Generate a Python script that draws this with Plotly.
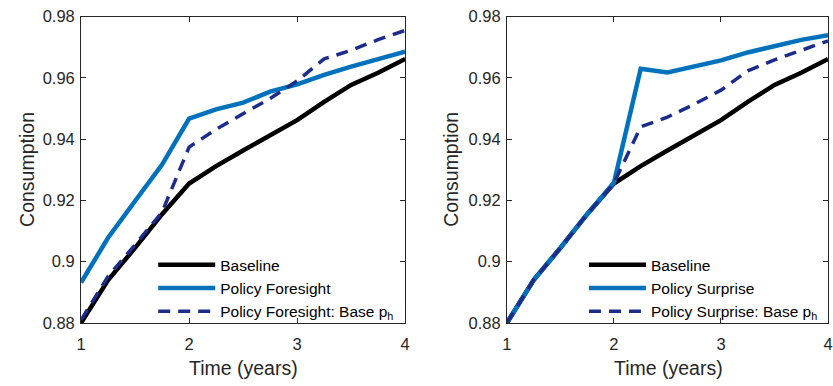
import plotly.graph_objects as go

# Quarterly time grid (years)
time_years = [1.0, 1.25, 1.5, 1.75, 2.0, 2.25, 2.5, 2.75, 3.0, 3.25, 3.5, 3.75, 4.0]

# Consumption paths
baseline = [0.8800, 0.8940, 0.9045, 0.9155, 0.9255, 0.9312, 0.9363, 0.9411, 0.9462,
            0.9522, 0.9577, 0.9617, 0.9662]
policy_foresight = [0.8932, 0.9078, 0.9198, 0.9317, 0.9467, 0.9497, 0.9519, 0.9555, 0.9579,
                    0.9610, 0.9637, 0.9663, 0.9686]
foresight_base_ph = [0.8810, 0.8952, 0.9055, 0.9162, 0.9374, 0.9432, 0.9483, 0.9533, 0.9590,
                     0.9662, 0.9690, 0.9725, 0.9755]
policy_surprise = [0.8800, 0.8940, 0.9045, 0.9155, 0.9258, 0.9630, 0.9618, 0.9638, 0.9657,
                   0.9683, 0.9704, 0.9724, 0.9739]
surprise_base_ph = [0.8800, 0.8940, 0.9045, 0.9155, 0.9256, 0.9440, 0.9472, 0.9514, 0.9560,
                    0.9623, 0.9659, 0.9690, 0.9721]

x_ticks = [1, 2, 3, 4]
y_ticks = [0.88, 0.9, 0.92, 0.94, 0.96, 0.98]
y_tick_text = ["0.88", "0.9", "0.92", "0.94", "0.96", "0.98"]

BLACK = "#000000"
BLUE = "#0072BD"
NAVY = "#1c2c8c"
AXIS = "#262626"
FONT = "Liberation Sans, Arial, Helvetica, sans-serif"

fig = go.Figure()

panels = [
    ("x", "y", "legend", policy_foresight, "Policy Foresight", foresight_base_ph),
    ("x2", "y2", "legend2", policy_surprise, "Policy Surprise", surprise_base_ph),
]
for xa, ya, leg, pol, pol_name, base_ph in panels:
    fig.add_trace(go.Scatter(x=time_years, y=baseline, mode="lines", name="Baseline",
                             line=dict(color=BLACK, width=4.5), xaxis=xa, yaxis=ya,
                             legend=leg))
    fig.add_trace(go.Scatter(x=time_years, y=pol, mode="lines", name=pol_name,
                             line=dict(color=BLUE, width=4.5), xaxis=xa, yaxis=ya,
                             legend=leg))
    fig.add_trace(go.Scatter(x=time_years, y=base_ph, mode="lines",
                             name=pol_name + ": Base p<sub>h</sub>",
                             line=dict(color=NAVY, width=3.5, dash="12px,8px"),
                             xaxis=xa, yaxis=ya, legend=leg))

axis_common = dict(
    showline=True, linecolor=AXIS, linewidth=1, mirror="ticks",
    ticks="inside", ticklen=5, tickcolor=AXIS, tickwidth=1,
    showgrid=False, zeroline=False, ticklabeloverflow="allow",
    tickfont=dict(family=FONT, size=16.5, color=AXIS),
)
x_axis_common = dict(axis_common, ticklabelstandoff=6)
y_axis_common = dict(axis_common, ticklabelstandoff=2)
y_dom = [1 - 329.3 / 386, 1 - 8 / 386]

legend_common = dict(xanchor="left", yanchor="top", bgcolor="rgba(0,0,0,0)",
                     borderwidth=0, itemwidth=57,
                     font=dict(family=FONT, size=15.5, color="#000000"))

fig.update_layout(
    width=833, height=386,
    margin=dict(l=0, r=0, t=0, b=0),
    paper_bgcolor="white", plot_bgcolor="white",
    font=dict(family=FONT, color=AXIS),
    xaxis=dict(domain=[77 / 833, 405 / 833], range=[1, 4], tickvals=x_ticks,
               anchor="y", **x_axis_common),
    yaxis=dict(domain=y_dom, range=[0.88, 0.98], tickvals=y_ticks,
               ticktext=y_tick_text, anchor="x", **y_axis_common),
    xaxis2=dict(domain=[508 / 833, 1.0], range=[1, 4], tickvals=x_ticks,
                anchor="y2", **x_axis_common),
    yaxis2=dict(domain=y_dom, range=[0.88, 0.98], tickvals=y_ticks,
                ticktext=y_tick_text, anchor="x2", **y_axis_common),
    legend=dict(x=150 / 833, y=1 - 251 / 386, **legend_common),
    legend2=dict(x=586 / 833, y=1 - 251 / 386, **legend_common),
    showlegend=True,
)

# Axis titles
title_font = dict(family=FONT, size=19.5, color=AXIS)
for xc in (241 / 833, 672 / 833):
    fig.add_annotation(text="Time (years)", x=xc, y=1 - 377 / 386, xref="paper",
                       yref="paper", showarrow=False, font=title_font,
                       xanchor="center", yanchor="middle")
for xc in (22 / 833, 452 / 833):
    fig.add_annotation(text="Consumption", x=xc, y=1 - 168 / 386, xref="paper",
                       yref="paper", showarrow=False, font=title_font, textangle=-90,
                       xanchor="center", yanchor="middle")

fig.write_html("out.html")
